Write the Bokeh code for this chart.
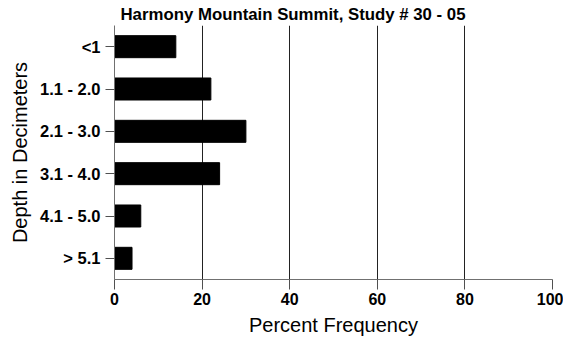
from bokeh.plotting import figure
from bokeh.models import FactorRange, Range1d, ColumnDataSource, FixedTicker
from bokeh.embed import file_html
from bokeh.resources import INLINE

categories = ["<1", "1.1 - 2.0", "2.1 - 3.0", "3.1 - 4.0", "4.1 - 5.0", "> 5.1"]
values = [14, 22, 30, 24, 6, 4]
x_ticks = [0, 20, 40, 60, 80, 100]
grid_ticks = [20, 40, 60, 80, 100]

source = ColumnDataSource(data=dict(cat=categories, val=values))

FONT = "Liberation Sans"

p = figure(width=563, height=338, output_backend="svg", toolbar_location=None,
           y_range=FactorRange(factors=list(reversed(categories)), range_padding=0),
           x_range=Range1d(0, 100),
           min_border_left=114, min_border_right=11, min_border_top=25, min_border_bottom=59)
p.outline_line_color = None
p.background_fill_color = "white"
p.border_fill_color = "white"

p.hbar(y="cat", left=0, right="val", height=0.52, source=source,
       fill_color="black", line_color="black")

p.title.text = "Harmony Mountain Summit, Study # 30 - 05"
p.title.text_font = FONT
p.title.text_font_size = "16.8px"
p.title.text_font_style = "bold"
p.title.text_color = "black"
p.title.align = "left"
p.title.offset = 6
p.title.standoff = 3

p.xaxis.ticker = FixedTicker(ticks=x_ticks)
p.xaxis.axis_label = "Percent Frequency"
p.xaxis.axis_label_text_font = FONT
p.xaxis.axis_label_text_font_size = "20px"
p.xaxis.axis_label_text_font_style = "normal"
p.xaxis.axis_label_text_color = "black"
p.xaxis.axis_label_standoff = 6
p.xaxis.major_label_text_font = FONT
p.xaxis.major_label_text_font_size = "16px"
p.xaxis.major_label_text_font_style = "bold"
p.xaxis.major_label_text_color = "black"
p.xaxis.major_label_standoff = 3
p.xaxis.major_tick_out = 10
p.xaxis.major_tick_in = 0
p.xaxis.minor_tick_out = 0
p.xaxis.minor_tick_in = 0
p.xaxis.axis_line_color = "#707070"
p.xaxis.major_tick_line_color = "#505050"

p.yaxis.axis_label = "Depth in Decimeters"
p.yaxis.axis_label_text_font = FONT
p.yaxis.axis_label_text_font_size = "20px"
p.yaxis.axis_label_text_font_style = "normal"
p.yaxis.axis_label_text_color = "black"
p.yaxis.axis_label_standoff = 6
p.yaxis.major_label_text_font = FONT
p.yaxis.major_label_text_font_size = "16.5px"
p.yaxis.major_label_text_font_style = "bold"
p.yaxis.major_label_text_color = "black"
p.yaxis.major_label_standoff = 5
p.yaxis.major_tick_out = 9
p.yaxis.major_tick_in = 0
p.yaxis.axis_line_color = "#707070"
p.yaxis.major_tick_line_color = "#505050"

p.xgrid.ticker = FixedTicker(ticks=grid_ticks)
p.xgrid.grid_line_color = "#222222"
p.xgrid.grid_line_alpha = 1.0
p.ygrid.grid_line_color = None

open("out.html", "w").write(file_html(p, INLINE))
